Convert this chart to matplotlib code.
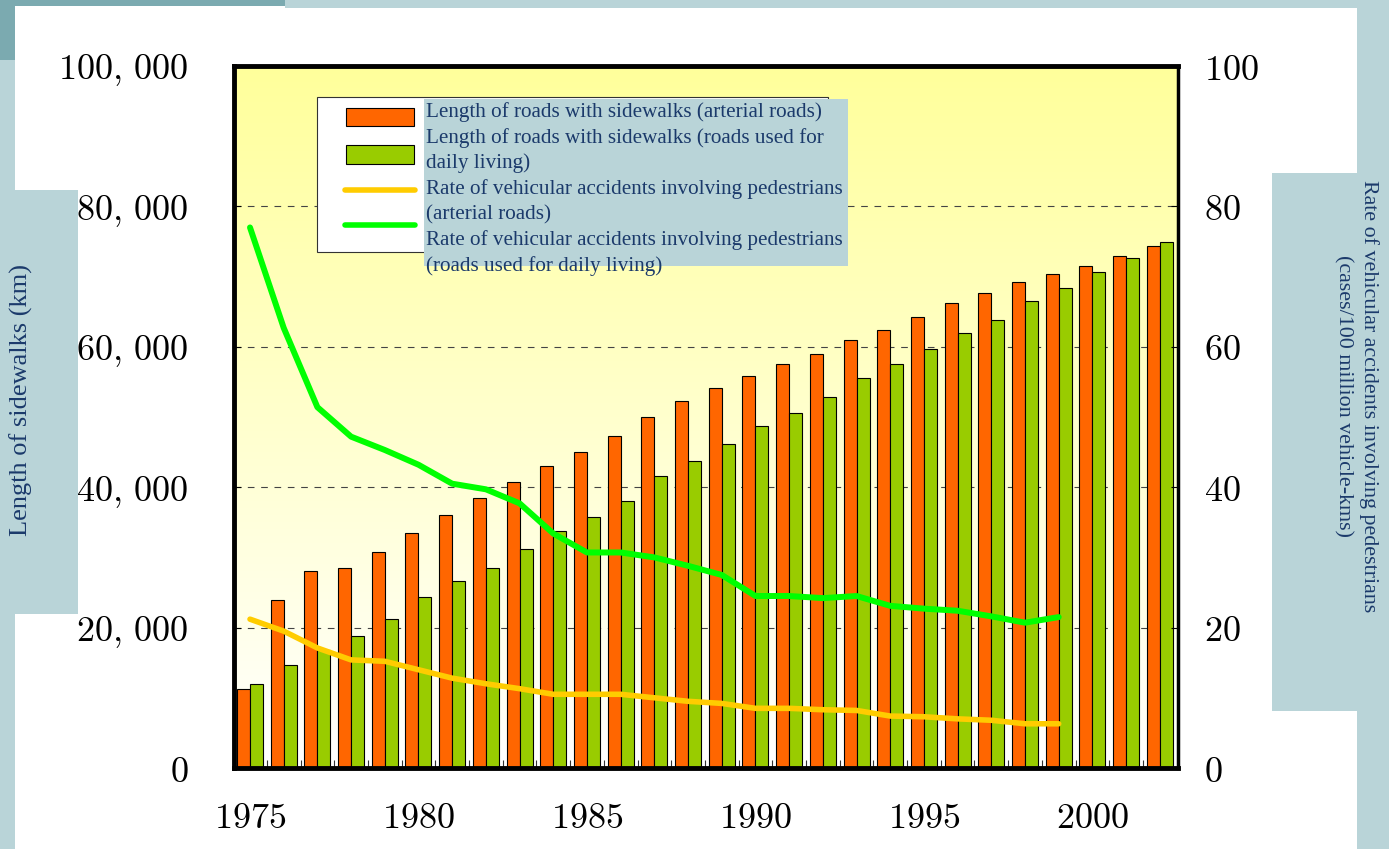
import numpy as np
import matplotlib
matplotlib.use('Agg')
import matplotlib.pyplot as plt
from matplotlib.patches import Rectangle
from matplotlib.lines import Line2D
from matplotlib.ticker import FuncFormatter, FixedLocator

plt.rcParams['mathtext.fontset'] = 'cm'

# data
years = list(range(1975, 2003))
sidewalk_arterial = [11200, 23900, 28100, 28500, 30800, 33500, 36100, 38400, 40700, 43000,
                     45000, 47300, 50000, 52300, 54100, 55900, 57500, 59000, 60900, 62400,
                     64300, 66200, 67700, 69200, 70400, 71500, 73000, 74400]
sidewalk_daily = [11900, 14700, 16800, 18800, 21200, 24300, 26600, 28500, 31200, 33800,
                  35800, 38100, 41600, 43800, 46100, 48700, 50600, 52900, 55600, 57500,
                  59700, 62000, 63800, 66500, 68400, 70700, 72600, 75000]
rate_years = list(range(1975, 2000))
rate_arterial = [21.2, 19.5, 17.1, 15.4, 15.2, 14.0, 12.8, 12.0, 11.3, 10.5, 10.5, 10.5, 10.0,
                 9.5, 9.2, 8.5, 8.5, 8.3, 8.2, 7.4, 7.3, 7.0, 6.8, 6.3, 6.3]
rate_daily = [77.0, 62.7, 51.4, 47.2, 45.3, 43.2, 40.5, 39.7, 37.7, 33.4, 30.7, 30.7, 30.0,
              28.8, 27.5, 24.5, 24.5, 24.2, 24.5, 23.1, 22.7, 22.4, 21.6, 20.7, 21.5]
year_ticks = [1975, 1980, 1985, 1990, 1995, 2000]
left_ticks = [0, 20000, 40000, 60000, 80000, 100000]
right_ticks = [0, 20, 40, 60, 80, 100]
legend_labels = ['Length of roads with sidewalks (arterial roads)',
                 'Length of roads with sidewalks (roads used for\ndaily living)',
                 'Rate of vehicular accidents involving pedestrians\n(arterial roads)',
                 'Rate of vehicular accidents involving pedestrians\n(roads used for daily living)']
left_label = 'Length of sidewalks (km)'
right_label = 'Rate of vehicular accidents involving pedestrians\n(cases/100 million vehicle-kms)'

W, H = 1389, 849
orange = '#FF6600'
green_bar = '#99CC00'
yellow_line = '#FFCC00'
green_line = '#00FF00'
teal = '#B9D4D8'
dark_teal = '#7BAAB0'
navy = '#1B3A6B'
serif = ['Liberation Serif', 'DejaVu Serif']

fig = plt.figure(figsize=(W / 100, H / 100), dpi=100)
fig.patch.set_facecolor('white')


def box(x, y, w, h, color, z=-10, **kw):
    # x, y: top-left corner in pixels
    r = Rectangle((x / W, 1 - (y + h) / H), w / W, h / H, transform=fig.transFigure,
                  facecolor=color, zorder=z, **kw)
    fig.add_artist(r)
    return r


# page decoration
box(285, 0, W - 285, 8, teal, edgecolor='none')
box(0, 0, 285, 6, dark_teal, edgecolor='none')
box(0, 0, 15, 60, dark_teal, edgecolor='none')
box(0, 60, 15, H - 60, teal, edgecolor='none')
box(0, 190, 78, 424, teal, edgecolor='none')
box(1357, 0, 32, H, teal, edgecolor='none')
box(1272, 173, 85, 538, teal, edgecolor='none')

ax = fig.add_axes([234 / W, 1 - 768 / H, (1178 - 234) / W, (768 - 66) / H])
xmin, xmax = 1974.525, 2002.54
ax.set_xlim(xmin, xmax)
ax.set_ylim(0, 100000)

# yellow to white gradient background
top = np.array([255, 255, 155]) / 255.0
bottom = np.array([255, 255, 255]) / 255.0
t = np.linspace(0, 1, 256)[:, None]
grad = (top * (1 - t) + bottom * t)[:, None, :]
ax.imshow(grad, extent=[xmin, xmax, 0, 100000], aspect='auto', zorder=0)

x = np.array(years)
w = 0.386
ax.bar(x - w / 2, sidewalk_arterial, width=w, color=orange, edgecolor='black', linewidth=0.8, zorder=2)
ax.bar(x + w / 2, sidewalk_daily, width=w, color=green_bar, edgecolor='black', linewidth=0.8, zorder=2)


def thousands(v, p):
    if v == 0:
        return '$0$'
    s = '{:,}'.format(int(v)).replace(',', r',\,')
    return '$' + s + '$'


ax.set_axisbelow(True)
ax.yaxis.grid(True, color='#444444', linestyle=(0, (6, 6)), linewidth=0.8)
ax.yaxis.set_major_locator(FixedLocator(left_ticks))
ax.yaxis.set_major_formatter(FuncFormatter(thousands))
ax.xaxis.set_major_locator(FixedLocator(year_ticks))
ax.xaxis.set_major_formatter(FuncFormatter(lambda v, p: '$%d$' % v))
ax.xaxis.set_minor_locator(FixedLocator([y + 0.5 for y in years[:-1]]))
ax.tick_params(axis='x', which='major', length=0, pad=24, labelsize=26)
ax.tick_params(axis='x', which='minor', direction='in', length=6, width=0.8, color='#333333')
ax.tick_params(axis='y', direction='in', length=5, width=0.8, pad=33, labelsize=26)

for s in ['left', 'bottom', 'top']:
    ax.spines[s].set_linewidth(3.5)
ax.spines['right'].set_linewidth(2.5)

ax2 = ax.twinx()
ax2.set_ylim(0, 100)
ax2.plot(rate_years, rate_arterial, color=yellow_line, lw=4, solid_capstyle='round', zorder=3)
ax2.plot(rate_years, rate_daily, color=green_line, lw=4.3, solid_capstyle='round', zorder=3)
ax2.yaxis.set_major_locator(FixedLocator(right_ticks))
ax2.yaxis.set_major_formatter(FuncFormatter(lambda v, p: '$%d$' % v))
ax2.tick_params(axis='y', direction='in', length=5, width=0.8, pad=19, labelsize=26)
for s in ax2.spines.values():
    s.set_visible(False)

# legend drawn by hand to copy the original layout
box(317, 97, 511, 155, 'white', z=10, edgecolor='#333333', linewidth=0.8)
box(346, 108, 68, 18, orange, z=11, edgecolor='black', linewidth=0.8)
box(346, 145, 68, 19, green_bar, z=11, edgecolor='black', linewidth=0.8)
for yy, c in [(190, yellow_line), (225, green_line)]:
    fig.add_artist(Line2D([345 / W, 415 / W], [1 - yy / H, 1 - yy / H], transform=fig.transFigure,
                          color=c, lw=4, solid_capstyle='round', zorder=11))
box(424, 99, 424, 167, teal, z=12, edgecolor='none')
line_y = 112
for lab in legend_labels:
    for part in lab.split('\n'):
        fig.text(426 / W, 1 - line_y / H, part, ha='left', va='center', fontsize=15.2,
                 family=serif, color=navy, zorder=13)
        line_y += 25.67

fig.text(21 / W, 1 - 400 / H, left_label, rotation=90, ha='center', va='center',
         fontsize=19, family=serif, color=navy)
fig.text(1356 / W, 1 - 396 / H, right_label, rotation=270, ha='center', va='center',
         fontsize=15.8, family=serif, color=navy, linespacing=1.45, multialignment='center')

fig.savefig('out.png', dpi=100)
